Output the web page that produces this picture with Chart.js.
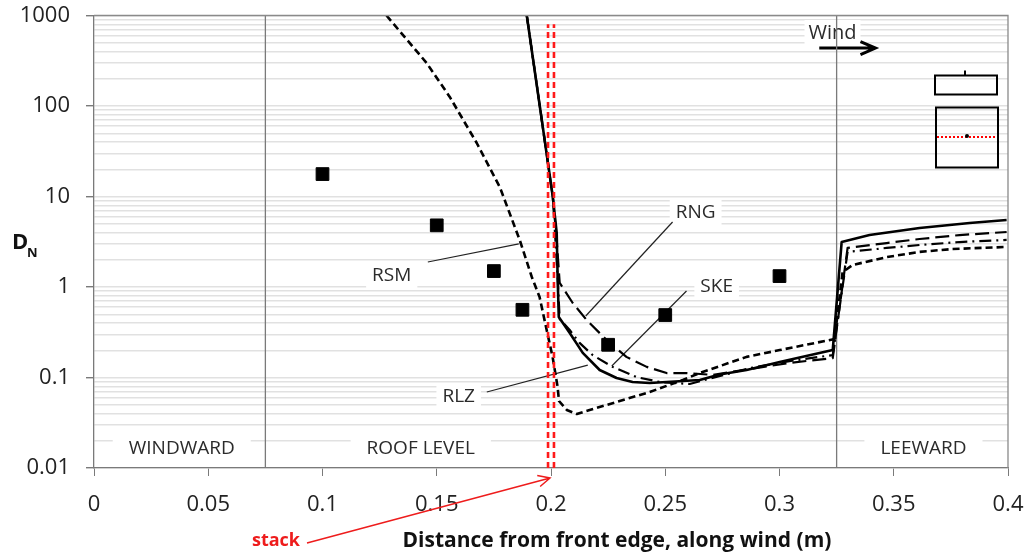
<!DOCTYPE html>
<html>
<head>
<meta charset="utf-8">
<script src="https://cdn.jsdelivr.net/npm/chart.js@4.4.1/dist/chart.umd.min.js"></script>
<style>
  html, body { margin: 0; padding: 0; background: #fff; }
  #wrap { width: 1026px; height: 556px; position: relative; }
</style>
</head>
<body>
<div id="wrap"><canvas id="dnChart"></canvas></div>
<script>
// experiment (black squares)
const expX = [0.1, 0.15, 0.175, 0.1875, 0.225, 0.25, 0.3];
const expY = [17.7, 4.8, 1.5, 0.56, 0.23, 0.49, 1.32];

// RSM - short dashes
const rsmX = [0.128, 0.1456, 0.1557, 0.1675, 0.1776, 0.1863, 0.1916, 0.195, 0.1981, 0.2007, 0.2029, 0.2035, 0.2069, 0.2113, 0.2169, 0.2287, 0.2432, 0.2577, 0.265, 0.2856, 0.3001, 0.3241, 0.3276, 0.332, 0.3469, 0.3612, 0.3757, 0.3994];
const rsmY = [1000, 298, 126, 39, 12.7, 3.31, 1.29, 0.775, 0.335, 0.169, 0.0785, 0.055, 0.0438, 0.0395, 0.0438, 0.0536, 0.0692, 0.0938, 0.112, 0.169, 0.201, 0.266, 1.46, 1.75, 2.14, 2.44, 2.63, 2.77];

// RNG - long dashes
const rngX = [0.1894, 0.2008, 0.2025, 0.2038, 0.2095, 0.2156, 0.2243, 0.233, 0.2419, 0.2506, 0.2593, 0.2707, 0.3044, 0.3233, 0.3298, 0.3469, 0.3613, 0.3788, 0.3994];
const rngY = [1000, 9.87, 3.3, 1.11, 0.666, 0.432, 0.26, 0.169, 0.131, 0.112, 0.112, 0.107, 0.145, 0.164, 2.7, 3.06, 3.39, 3.75, 4.05];

// SKE - dash dot
const skeX = [0.1894, 0.2008, 0.2029, 0.2038, 0.2082, 0.2125, 0.2182, 0.227, 0.2375, 0.2476, 0.2607, 0.2869, 0.3044, 0.3233, 0.3298, 0.3469, 0.3613, 0.3788, 0.3994];
const skeY = [1000, 9.87, 1.29, 0.443, 0.335, 0.241, 0.177, 0.131, 0.101, 0.0892, 0.0848, 0.127, 0.152, 0.177, 2.44, 2.7, 2.91, 3.14, 3.31];

// RLZ - solid
const rlzX = [0.1894, 0.2008, 0.2025, 0.2029, 0.2034, 0.2082, 0.2139, 0.2213, 0.2287, 0.2357, 0.2432, 0.2506, 0.2651, 0.2738, 0.2856, 0.3001, 0.3233, 0.3272, 0.3394, 0.3613, 0.3832, 0.3994];
const rlzY = [1000, 9.87, 3.95, 1.29, 0.466, 0.31, 0.187, 0.121, 0.0987, 0.0892, 0.0869, 0.0892, 0.0938, 0.108, 0.121, 0.148, 0.201, 3.14, 3.75, 4.49, 5.09, 5.5];

const regionEdges = [0.075, 0.325];
const stackEdges = [0.1987, 0.2013];
const stackTop = 800;

const xTicks = [0, 0.05, 0.1, 0.15, 0.2, 0.25, 0.3, 0.35, 0.4];
const yTickLabels = [0.01, 0.1, 1, 10, 100, 1000];

const regionNames = ["WINDWARD", "ROOF LEVEL", "LEEWARD"];
const regionX = [0.0384, 0.143, 0.363];
const regionY = 0.0165;

const modelNames = ["RSM", "RNG", "SKE", "RLZ"];
const modelTextX = [0.1303, 0.2633, 0.2725, 0.1596];
const modelTextY = [1.32, 6.57, 1.0, 0.061];
const leaderFrom = [[0.1461, 1.89], [0.2532, 5.23], [0.2593, 0.903], [0.1719, 0.0692]];
const leaderTo = [[0.1859, 2.99], [0.2152, 0.478], [0.2266, 0.134], [0.2161, 0.137]];

const pts = (xs, ys) => xs.map((v, i) => ({ x: v, y: ys[i] }));

// all minor positions of the log axis
const yGrid = [];
yTickLabels.forEach((d, i) => {
  if (i === yTickLabels.length - 1) { yGrid.push({ value: d, major: true }); return; }
  for (let k = 1; k <= 9; k++) yGrid.push({ value: +(k * d).toPrecision(3), major: k === 1 });
});

const FONT = "'Open Sans', 'Noto Sans', sans-serif";

function curve(label, data, dash, width, order) {
  return {
    label, data, showLine: true, borderColor: "#000", borderWidth: width,
    borderDash: dash, pointRadius: 0, tension: 0, order, fill: false,
    borderJoinStyle: "round"
  };
}

const datasets = [
  {
    label: "Experiment", data: pts(expX, expY), pointStyle: "rect",
    pointRadius: 9, backgroundColor: "#000", borderColor: "#000", order: 1
  },
  curve("RSM", pts(rsmX, rsmY), [7, 4], 2.6, 5),
  curve("RNG", pts(rngX, rngY), [14, 6], 2.2, 5),
  curve("SKE", pts(skeX, skeY), [12, 5, 2, 5], 2.2, 5),
  curve("RLZ", pts(rlzX, rlzY), [], 2.6, 4),
];
stackEdges.forEach(s => datasets.push({
  label: "stack", data: [{ x: s, y: 0.01 }, { x: s, y: stackTop }], showLine: true,
  borderColor: "#ff1a1a", borderWidth: 2.6, borderDash: [6, 4], pointRadius: 0, order: 2
}));
regionEdges.forEach(r => datasets.push({
  label: "edge", data: [{ x: r, y: 0.01 }, { x: r, y: 1000 }], showLine: true,
  borderColor: "#7a7a7a", borderWidth: 1.3, pointRadius: 0, order: 10
}));

function textBox(ctx, text, cx, cy, padX, padY, h) {
  const w = ctx.measureText(text).width;
  ctx.fillStyle = "#fff";
  ctx.fillRect(cx - w / 2 - padX, cy - h / 2 - padY, w + 2 * padX, h + 2 * padY);
  ctx.fillStyle = "#2b2b2b";
  ctx.fillText(text, cx, cy);
}

const annotations = {
  id: "annotations",
  beforeDatasetsDraw(chart) {
    const { ctx, scales: { x, y } } = chart;
    ctx.save();
    ctx.textAlign = "center";
    ctx.textBaseline = "middle";
    ctx.font = "19px " + FONT;
    regionNames.forEach((n, i) => {
      textBox(ctx, n, x.getPixelForValue(regionX[i]), y.getPixelForValue(regionY), 16, 2, 22);
    });
    ctx.font = "19px " + FONT;
    modelNames.forEach((n, i) => {
      textBox(ctx, n, x.getPixelForValue(modelTextX[i]), y.getPixelForValue(modelTextY[i]), 6, 2, 22);
    });
    ctx.strokeStyle = "#222";
    ctx.lineWidth = 1.2;
    leaderFrom.forEach((f, i) => {
      const t = leaderTo[i];
      ctx.beginPath();
      ctx.moveTo(x.getPixelForValue(f[0]), y.getPixelForValue(f[1]));
      ctx.lineTo(x.getPixelForValue(t[0]), y.getPixelForValue(t[1]));
      ctx.stroke();
    });
    // wind label and arrow
    ctx.font = "20px " + FONT;
    textBox(ctx, "Wind", x.getPixelForValue(0.3232), y.getPixelForValue(641), 4, 2, 22);
    const ay = y.getPixelForValue(437);
    const ax0 = x.getPixelForValue(0.3174), ax1 = x.getPixelForValue(0.342);
    ctx.strokeStyle = "#000";
    ctx.lineWidth = 3;
    ctx.beginPath();
    ctx.moveTo(ax0, ay); ctx.lineTo(ax1 - 2, ay);
    ctx.moveTo(ax1 - 15, ay - 6.5); ctx.lineTo(ax1, ay); ctx.lineTo(ax1 - 15, ay + 6.5);
    ctx.stroke();
    ctx.restore();
  },
  afterDatasetsDraw(chart) {
    const { ctx, chartArea: a } = chart;
    ctx.save();
    // building sketch (side view and plan view)
    ctx.strokeStyle = "#000";
    ctx.lineWidth = 2;
    ctx.strokeRect(a.right - 73, a.top + 60, 62, 19);
    ctx.beginPath();
    ctx.moveTo(a.right - 43, a.top + 55); ctx.lineTo(a.right - 43, a.top + 60);
    ctx.stroke();
    ctx.strokeRect(a.right - 72, a.top + 92, 62, 60);
    ctx.strokeStyle = "#ff0000";
    ctx.setLineDash([2, 2]);
    ctx.beginPath();
    ctx.moveTo(a.right - 71, a.top + 121.5); ctx.lineTo(a.right - 11, a.top + 121.5);
    ctx.stroke();
    ctx.setLineDash([]);
    ctx.fillStyle = "#000";
    ctx.beginPath();
    ctx.arc(a.right - 41, a.top + 120.5, 2, 0, Math.PI * 2);
    ctx.fill();
    // plot frame (top/right)
    ctx.strokeStyle = "#8a8a8a";
    ctx.lineWidth = 1.3;
    ctx.beginPath();
    ctx.moveTo(a.left, a.top); ctx.lineTo(a.right, a.top); ctx.lineTo(a.right, a.bottom);
    ctx.stroke();
    ctx.restore();
  },
  afterDraw(chart) {
    const { ctx, chartArea: a, scales: { x } } = chart;
    ctx.save();
    ctx.fillStyle = "#111";
    ctx.textBaseline = "middle";
    ctx.textAlign = "left";
    ctx.font = "bold 22px " + FONT;
    ctx.fillText("D", 12, 243);
    ctx.font = "bold 13px " + FONT;
    ctx.fillText("N", 27, 253);
    // axis title (sits right of the plot centre in the original)
    ctx.textAlign = "center";
    ctx.textBaseline = "alphabetic";
    ctx.font = "bold 21px " + FONT;
    ctx.fillText("Distance from front edge, along wind (m)", 617, 547);
    // stack label with arrow
    ctx.fillStyle = "#ee1c1c";
    ctx.font = "bold 18px " + FONT;
    ctx.textBaseline = "middle";
    ctx.fillText("stack", 276, 541);
    const x0 = 307, y0 = 543;
    const x1 = x.getPixelForValue(0.2) - 1, y1 = a.bottom + 10;
    ctx.strokeStyle = "#ee1c1c";
    ctx.lineWidth = 1.5;
    ctx.beginPath();
    ctx.moveTo(x0, y0); ctx.lineTo(x1, y1);
    const ang = Math.atan2(y1 - y0, x1 - x0);
    ctx.moveTo(x1 - 13 * Math.cos(ang - 0.45), y1 - 13 * Math.sin(ang - 0.45));
    ctx.lineTo(x1, y1);
    ctx.lineTo(x1 - 13 * Math.cos(ang + 0.45), y1 - 13 * Math.sin(ang + 0.45));
    ctx.stroke();
    ctx.restore();
  }
};

new Chart(document.getElementById("dnChart"), {
  type: "scatter",
  data: { datasets },
  options: {
    responsive: true,
    maintainAspectRatio: false,
    animation: false,
    events: [],
    layout: { padding: { top: 15.5, right: 18, left: 0, bottom: 0 } },
    plugins: { legend: { display: false }, tooltip: { enabled: false } },
    scales: {
      x: {
        type: "linear", min: 0, max: 0.4,
        afterBuildTicks: (s) => { s.ticks = xTicks.map(v => ({ value: v })); },
        afterFit: (s) => { s.height = 88; s.paddingLeft = 0; s.paddingRight = 0; },
        grid: { drawOnChartArea: false, tickLength: 8, tickColor: "#7a7a7a" },
        border: { color: "#7a7a7a", width: 1.3 },
        ticks: {
          color: "#222", font: { family: FONT, size: 22 }, padding: 16, maxRotation: 0,
          callback: (v) => String(Number(v.toFixed(2)))
        },
        title: { display: false }
      },
      y: {
        type: "logarithmic", min: 0.01, max: 1000,
        afterBuildTicks: (s) => { s.ticks = yGrid.map(t => ({ value: t.value, major: t.major })); },
        afterFit: (s) => { s.width = 94; s.paddingTop = 0; s.paddingBottom = 0; },
        grid: {
          color: "#e1e1e1", lineWidth: 1.4, tickLength: 8,
          tickColor: (c) => (c.tick && c.tick.major ? "#7a7a7a" : "rgba(0,0,0,0)")
        },
        border: { color: "#7a7a7a", width: 1.3 },
        ticks: {
          color: "#222", font: { family: FONT, size: 22 }, padding: 16, autoSkip: false,
          callback: (v, i, ticks) => (ticks[i].major ? String(v) : "")
        }
      }
    }
  },
  plugins: [annotations]
});
</script>
</body>
</html>
